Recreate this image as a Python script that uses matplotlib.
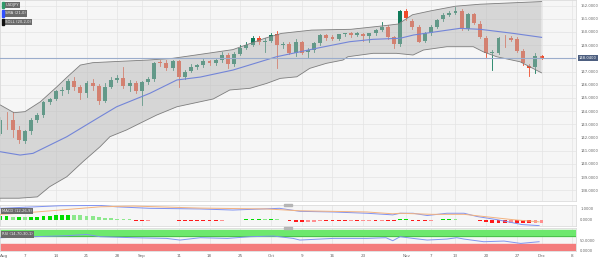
import matplotlib.pyplot as plt
from matplotlib.patches import Rectangle
import numpy as np

# daily candles, Aug 1 .. Dec 1 (trading days)
opens = [142.30, 143.33, 143.30, 142.57, 141.75, 142.50, 143.35, 143.70, 144.70, 144.95,
         145.50, 145.60, 146.30, 145.80, 145.35, 146.15, 145.90, 144.80, 145.85, 146.35,
         146.48, 145.90, 146.15, 145.55, 146.20, 146.40, 147.70, 147.62, 147.30, 147.80,
         146.56, 147.05, 147.36, 147.46, 147.80, 147.62, 147.85, 148.28, 147.55, 148.33,
         148.78, 149.01, 149.52, 149.21, 149.33, 149.85, 149.02, 149.08, 148.42, 149.26,
         148.45, 148.62, 149.14, 149.77, 149.60, 149.44, 149.82, 149.89, 149.75, 149.84,
         149.69, 149.89, 150.14, 150.39, 149.60, 149.08, 151.58, 150.85, 150.35, 149.33,
         149.89, 150.39, 150.95, 151.28, 151.41, 151.58, 150.22, 151.33, 150.60, 149.56,
         148.38, 148.38, 149.56, 149.52, 149.44, 148.58, 147.42, 147.32, 148.17]
highs = [143.55, 143.90, 143.90, 142.85, 142.60, 143.45, 143.85, 144.80, 145.00, 145.60,
         145.85, 146.40, 146.55, 145.95, 146.30, 146.40, 146.05, 146.10, 146.60, 146.70,
         147.37, 146.35, 146.30, 146.30, 146.55, 147.70, 147.85, 147.85, 147.85, 147.90,
         147.15, 147.55, 147.60, 147.95, 147.90, 147.95, 148.45, 148.40, 148.45, 149.00,
         149.20, 149.70, 149.70, 149.55, 149.90, 150.10, 149.25, 149.20, 149.50, 149.30,
         148.80, 149.25, 149.85, 149.85, 149.75, 149.85, 149.95, 150.00, 150.00, 149.95,
         149.95, 150.25, 150.75, 150.50, 149.70, 151.70, 151.72, 151.00, 150.55, 150.00,
         150.50, 151.00, 151.40, 151.55, 151.90, 151.75, 151.45, 151.40, 150.80, 149.70,
         148.60, 149.60, 149.75, 149.68, 149.60, 148.70, 147.60, 148.42, 148.25]
lows = [142.20, 142.65, 142.05, 141.55, 141.55, 142.30, 143.20, 143.55, 144.55, 144.85,
        145.25, 145.40, 145.60, 144.90, 145.05, 145.60, 144.55, 144.70, 145.75, 146.20,
        145.75, 145.50, 145.35, 144.45, 146.05, 146.30, 147.45, 147.10, 147.10, 145.85,
        146.45, 146.95, 147.20, 147.35, 147.50, 147.50, 147.75, 147.30, 147.45, 148.25,
        148.70, 148.95, 149.10, 148.50, 149.25, 147.25, 148.80, 148.30, 148.20, 148.35,
        148.10, 148.50, 149.00, 149.40, 149.40, 149.40, 149.70, 149.65, 149.70, 149.30,
        149.26, 149.80, 150.10, 149.50, 148.80, 148.90, 150.90, 150.20, 149.20, 149.25,
        149.80, 150.30, 150.85, 151.20, 151.35, 150.15, 150.15, 150.60, 149.55, 148.08,
        147.11, 148.30, 148.83, 149.30, 148.50, 147.50, 146.66, 146.86, 147.95]
closes = [143.33, 143.30, 142.57, 141.80, 142.50, 143.35, 143.70, 144.70, 144.90, 145.50,
          145.60, 146.30, 145.80, 145.35, 146.15, 145.90, 144.80, 145.85, 146.35, 146.48,
          145.90, 146.15, 145.55, 146.20, 146.40, 147.62, 147.62, 147.30, 147.80, 146.56,
          147.00, 147.36, 147.46, 147.80, 147.62, 147.85, 148.28, 147.55, 148.30, 148.76,
          149.01, 149.52, 149.21, 149.33, 149.77, 149.02, 149.12, 148.42, 149.26, 148.38,
          148.62, 149.14, 149.77, 149.56, 149.44, 149.82, 149.89, 149.75, 149.89, 149.69,
          149.89, 150.14, 150.39, 149.60, 149.08, 151.58, 151.03, 150.39, 149.26, 149.89,
          150.39, 150.90, 151.28, 151.41, 151.58, 150.22, 151.36, 150.65, 149.64, 148.38,
          148.45, 149.52, 149.52, 149.39, 148.58, 147.62, 147.24, 148.17, 148.04]

# SMA and Bollinger band (bar index, price)
sma_x = [0, 3.2, 5.3, 10.8, 16.2, 18.9, 21.6, 24.3, 28.7, 32.5, 37.8, 44.9, 51.4, 56.8, 60.6, 65, 67.2, 74.7, 78, 83.4, 88]
sma_y = [140.92, 140.67, 140.80, 142.06, 143.58, 144.33, 144.84, 145.35, 146.36, 146.58, 147.11, 148.12, 148.76,
         149.26, 149.44, 149.52, 149.77, 150.27, 150.20, 149.89, 149.59]
upper_x = [0, 2.2, 4, 6.5, 9.2, 10.8, 13, 15, 18, 24, 28, 32.5, 37.8, 43, 45.7, 50.6, 57, 62, 64.7, 67, 70, 74, 78, 83, 88]
upper_y = [144.46, 143.88, 143.96, 144.71, 145.85, 146.56, 147.49, 147.67, 147.74, 147.87, 148.00, 148.30, 148.66,
           149.52, 149.89, 150.14, 150.20, 150.45, 150.60, 151.30, 151.60, 151.95, 152.10, 152.20, 152.30]
lower_x = [0, 3, 6, 8, 10.8, 13.5, 16.2, 17.8, 20.5, 22.7, 25.4, 28.7, 32.5, 34.6, 37.3, 40.6, 43.3, 45.5, 48.2,
           50.3, 53, 55.7, 56.5, 60.6, 64.4, 67.1, 68.8, 72.6, 76.9, 78.5, 80.7, 84.5, 88]
lower_y = [137.40, 137.40, 137.50, 138.27, 139.03, 140.20, 141.30, 142.06, 142.57, 143.08, 143.70, 144.33, 144.71,
           144.92, 145.60, 145.73, 146.10, 146.48, 146.60, 147.24, 147.62, 147.87, 148.12, 148.38, 148.38, 148.25,
           148.63, 148.88, 148.88, 148.50, 148.12, 147.74, 146.90]

# MACD (12,26,9)
macd_x = [0, 9.7, 16.2, 18.9, 24.3, 32.5, 37.8, 45.4, 48.7, 54.1, 59.6, 63.8, 65, 67.1, 69.4, 72.6, 75.4, 77.5, 80.8, 84.8, 87.6]
macd_y = [1.06, 1.30, 1.33, 1.20, 1.06, 1.00, 0.90, 1.06, 0.78, 0.72, 0.60, 0.45, 0.60, 0.60, 0.39, 0.60, 0.60, 0.30,
          0.00, -0.45, -0.55]
signal_x = [0, 3.2, 16.2, 21.6, 32.5, 43.3, 48.7, 59.6, 63.8, 65, 70.2, 75.4, 78.6, 83.4, 87.6]
signal_y = [0.50, 0.60, 1.20, 1.27, 1.08, 1.00, 0.83, 0.72, 0.55, 0.60, 0.50, 0.50, 0.30, 0.00, -0.20]
hist = [0.30, 0.30, 0.28, 0.28, 0.25, 0.25, 0.28, 0.32, 0.38, 0.40,
        0.42, 0.45, 0.42, 0.40, 0.36, 0.30, 0.25, 0.18, 0.12, 0.10,
        0.05, 0.03, -0.08, -0.10, -0.08, -0.02, 0.01, -0.02, -0.06, -0.10,
        -0.10, -0.10, -0.10, -0.10, -0.10, -0.10, -0.08, -0.06, -0.03, 0.00,
        0.03, 0.06, 0.07, 0.06, 0.06, 0.05, -0.05, -0.15, -0.22, -0.24,
        -0.22, -0.18, -0.15, -0.15, -0.15, -0.15, -0.15, -0.14, -0.14, -0.13,
        -0.12, -0.12, -0.10, -0.12, -0.13, 0.02, 0.03, -0.08, -0.12, -0.12,
        -0.10, -0.05, 0.04, 0.06, 0.04, 0.00, 0.00, -0.05, -0.15, -0.22,
        -0.28, -0.28, -0.28, -0.27, -0.28, -0.32, -0.34, -0.33, -0.30]

# RSI (14)
rsi_x = [0, 5.4, 10.8, 14, 16.2, 21.6, 27, 29.2, 32.5, 36.9, 40.6, 44.4, 47.6, 48.7, 54.1, 59.6, 62.7, 63.8, 65,
         67.1, 69.4, 72.6, 74.2, 75.4, 78.6, 81.9, 84.6, 87.6]
rsi_y = [61.7, 66.7, 71.7, 78.0, 66.7, 61.7, 58.3, 50.0, 61.7, 58.3, 66.7, 70.0, 58.3, 50.0, 58.3, 58.3, 61.7, 46.7,
         66.7, 58.3, 50.0, 55.0, 61.7, 55.0, 41.7, 45.0, 33.3, 41.7]

tick_pos = [0, 4, 9, 14, 19, 23, 29, 34, 39, 44, 49, 54, 59, 66, 70, 74, 79, 84, 88, 93]
tick_lab = ['Aug', '7', '14', '21', '28', 'Sep', '11', '18', '25', 'Oct', '9', '16', '23',
            'Nov', '7', '13', '20', '27', 'Dec', '8']
price_ticks = [138, 139, 140, 141, 142, 143, 144, 145, 146, 147, 149, 150, 151, 152]

up_col = '#0f7a5a'
dn_col = '#f04a2a'
bg = '#f6f6f6'
grid = '#e4e4e4'
lab_col = '#666666'
fs = 2.7
xlim = (-0.07, 93.6)

fig = plt.figure(figsize=(6, 2.6), dpi=100)
fig.patch.set_facecolor('white')
ax = fig.add_axes([0, 0.227, 0.96, 0.773])
ax_m = fig.add_axes([0, 0.131, 0.96, 0.081])
ax_r = fig.add_axes([0, 0.035, 0.96, 0.088])

for a in (ax, ax_m, ax_r):
    a.set_facecolor(bg)
    a.set_xlim(*xlim)
    a.set_xticks(tick_pos)
    a.tick_params(length=0, labelbottom=False, labelleft=False, labelright=True,
                  labelsize=fs, labelcolor=lab_col, pad=3)
    a.yaxis.tick_right()
    a.grid(True, color=grid, lw=0.5)
    a.set_axisbelow(True)
    for s in a.spines.values():
        s.set_color('#dcdcdc')
        s.set_linewidth(0.6)

# main panel
ax.set_ylim(137.19, 152.42)
ax.set_yticks(price_ticks)
ax.set_yticklabels([f'{p:.4f}' for p in price_ticks])
for i in range(len(opens)):
    o, h, l, c = opens[i], highs[i], lows[i], closes[i]
    col = up_col if c >= o else dn_col
    ax.plot([i, i], [l, h], color=col, lw=0.6, zorder=2)
    ax.add_patch(Rectangle((i - 0.32, min(o, c)), 0.64, max(abs(c - o), 0.03),
                           facecolor=col, edgecolor='none', zorder=2))
ax.fill(np.r_[upper_x, lower_x[::-1]], np.r_[upper_y, lower_y[::-1]],
        facecolor='#b8b8b8', alpha=0.5, edgecolor='none', zorder=3)
ax.plot(upper_x, upper_y, color='#7d7d7d', lw=0.6, zorder=4)
ax.plot(lower_x, lower_y, color='#7d7d7d', lw=0.6, zorder=4)
ax.plot(sma_x, sma_y, color='#7385d8', lw=0.8, zorder=4)
last = closes[-1]
ax.axhline(last, color='#9badcc', lw=0.8, zorder=5)
ax.text(1.005, last, f'{last:.4f}', transform=ax.get_yaxis_transform(), fontsize=fs,
        color='white', va='center', ha='left',
        bbox=dict(boxstyle='square,pad=0.25', fc='#4d5f80', ec='none'))

# legend boxes
legend = [('USDJPY', '#2f9a6a'), ('SMA (21,0)', '#3050ff'), ('BOLL (20,2,0)', '#111111')]
for k, (txt, mk) in enumerate(legend):
    yy = 0.975 - k * 0.042
    ax.text(0.009, yy, txt, transform=ax.transAxes, fontsize=fs, color='#eeeeee', va='center',
            bbox=dict(boxstyle='square,pad=0.3', fc='#6b6b6b', ec='none'), zorder=10)
    ax.add_patch(Rectangle((0.003, yy - 0.016), 0.004, 0.032, transform=ax.transAxes,
                           color=mk, zorder=11))

# MACD panel
ax_m.set_ylim(-0.58, 1.38)
ax_m.set_yticks([1.0, 0.0])
ax_m.set_yticklabels(['1.0000', '0.0000'])
ax_m.grid(False, axis='y')
for i, v in enumerate(hist):
    prev = hist[i - 1] if i > 0 else v
    if v >= 0:
        col = '#00dd00' if v >= prev else '#8de88d'
    else:
        col = '#ff1a1a' if v <= prev else '#ff8f8f'
    ax_m.bar(i, v, width=0.62, color=col, zorder=2)
ax_m.plot(macd_x, macd_y, color='#7f92f2', lw=0.7, zorder=3)
ax_m.plot(signal_x, signal_y, color='#f3b27f', lw=0.7, zorder=3)
ax_m.text(0.004, 0.7, 'MACD (12,26,9)', transform=ax_m.transAxes, fontsize=fs, color='#eeeeee',
          va='center', bbox=dict(boxstyle='square,pad=0.3', fc='#6b6b6b', ec='none'), zorder=10)

# RSI panel
ax_r.set_ylim(-4, 110)
ax_r.set_yticks([50, 0])
ax_r.set_yticklabels(['50.0000', '0.0000'])
ax_r.grid(False, axis='y')
ax_r.axhspan(70, 100, color='#6de86d', zorder=1)
ax_r.axhspan(0, 30, color='#f47c7c', zorder=1)
ax_r.axhline(70, color='#3fb03f', lw=0.5, zorder=1)
ax_r.plot(rsi_x, rsi_y, color='#8095f0', lw=0.7, zorder=3)
ax_r.text(0.004, 0.72, 'RSI (14,70,30,1)', transform=ax_r.transAxes, fontsize=fs, color='#eeeeee',
          va='center', bbox=dict(boxstyle='square,pad=0.3', fc='#6b6b6b', ec='none'), zorder=10)

# small panel handles
for yy in (0.212, 0.123):
    fig.patches.append(Rectangle((0.474, yy - 0.004), 0.012, 0.008, transform=fig.transFigure,
                                 color='#b5b5b5', zorder=20))

ax_r.tick_params(labelbottom=True)
ax_r.set_xticklabels(tick_lab, fontsize=fs + 0.3, color=lab_col)
ax_r.tick_params(axis='x', pad=2)
lbls = ax_r.get_xticklabels()
lbls[0].set_ha('left')

fig.savefig('out.png', dpi=100, facecolor=fig.get_facecolor())
